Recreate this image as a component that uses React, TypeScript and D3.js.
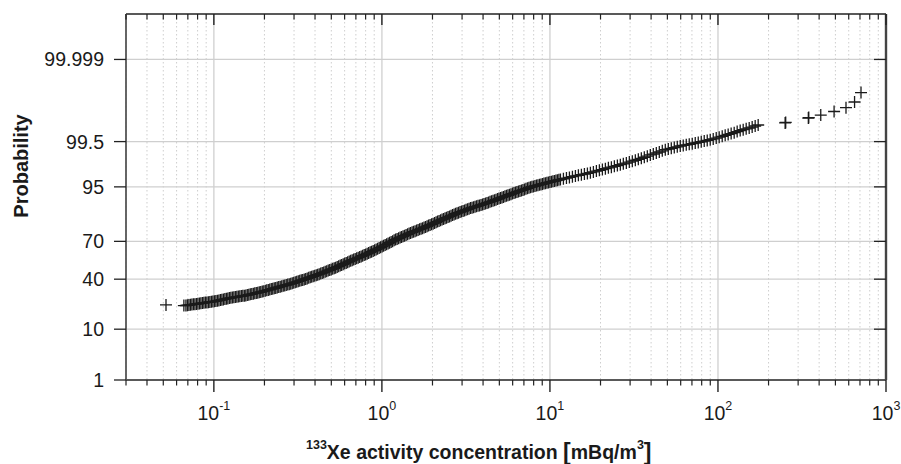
import React from "react";
import * as d3 from "d3";

// ---- data (concentration in mBq/m3, probability in %) ----
const concentration: number[] = [
  0.0519, 0.0663,
  0.06818, 0.07104, 0.07401, 0.07712, 0.08035,
  0.0837, 0.08721, 0.09086, 0.09467, 0.09864,
  0.1028, 0.1071, 0.1116, 0.1163, 0.1211,
  0.1262, 0.1315, 0.137, 0.1427, 0.1487,
  0.1549, 0.1614, 0.1682, 0.1752, 0.1825,
  0.1902, 0.1982, 0.2065, 0.2151, 0.2241,
  0.2335, 0.2433, 0.2535, 0.2641, 0.2752,
  0.2868, 0.2988, 0.3113, 0.3244, 0.338,
  0.3521, 0.3669, 0.3822, 0.3983, 0.4149,
  0.4325, 0.4506, 0.4695, 0.4892, 0.5097,
  0.531, 0.5533, 0.5764, 0.6006, 0.6258,
  0.6521, 0.6794, 0.7079, 0.7376, 0.7685,
  0.8006, 0.8342, 0.8691, 0.9055, 0.9435,
  0.9831, 1.0243, 1.0672, 1.112, 1.1586,
  1.207, 1.258, 1.31, 1.365, 1.422,
  1.482, 1.544, 1.609, 1.676, 1.746,
  1.82, 1.896, 1.976, 2.059, 2.145,
  2.235, 2.329, 2.426, 2.528, 2.634,
  2.744, 2.859, 2.979, 3.104, 3.234,
  3.369, 3.51, 3.657, 3.811, 3.97,
  4.137, 4.31, 4.491, 4.679, 4.875,
  5.08, 5.293, 5.515, 5.746, 5.987,
  6.236, 6.497, 6.77, 7.053, 7.349,
  7.658, 7.979, 8.313, 8.662, 9.025,
  9.404, 9.798, 10.21, 10.64, 11.08,
  11.55, 12.03, 12.54, 13.06, 13.61,
  14.18, 14.77, 15.39, 16.04, 16.71,
  17.41, 18.14, 18.9, 19.69, 20.52,
  21.38, 22.28, 23.21, 24.18, 25.2,
  26.24, 27.34, 28.49, 29.68, 30.92,
  32.23, 33.58, 34.99, 36.45, 37.98,
  39.57, 41.23, 42.96, 44.76, 46.63,
  48.59, 50.63, 52.75, 54.96, 57.26,
  59.65, 62.15, 64.76, 67.47, 70.3,
  73.25, 76.32, 79.52, 82.85, 86.32,
  89.94, 93.71, 97.64, 101.7, 106.0,
  110.4, 115.0, 119.8, 124.9, 130.1,
  135.6, 141.3, 147.2, 153.4, 159.8,
  166.5, 173.5,
  251, 253, 345, 347, 409, 491, 578, 650, 710,
];

const probability: number[] = [
  21.7, 21.3,
  21.36, 21.63, 21.89, 22.16, 22.42,
  22.69, 22.97, 23.25, 23.52, 23.8,
  24.08, 24.51, 24.94, 25.37, 25.8,
  26.23, 26.56, 26.89, 27.21, 27.54,
  27.87, 28.35, 28.82, 29.3, 29.77,
  30.25, 30.85, 31.45, 32.06, 32.66,
  33.26, 33.88, 34.5, 35.13, 35.75,
  36.37, 37.14, 37.91, 38.67, 39.44,
  40.21, 41.06, 41.91, 42.77, 43.62,
  44.47, 45.45, 46.43, 47.41, 48.39,
  49.37, 50.48, 51.59, 52.7, 53.81,
  54.92, 55.95, 56.98, 58.01, 59.04,
  60.07, 61.17, 62.27, 63.37, 64.47,
  65.57, 66.71, 67.85, 68.99, 70.13,
  71.27, 72.17, 73.07, 73.96, 74.86,
  75.76, 76.5, 77.23, 77.97, 78.7,
  79.44, 80.18, 80.92, 81.65, 82.39,
  83.13, 83.76, 84.39, 85.01, 85.64,
  86.27, 86.75, 87.22, 87.7, 88.17,
  88.65, 89.0, 89.35, 89.69, 90.04,
  90.39, 90.75, 91.11, 91.46, 91.82,
  92.18, 92.48, 92.79, 93.09, 93.4,
  93.7, 93.95, 94.2, 94.44, 94.69,
  94.94, 95.1, 95.26, 95.42, 95.58,
  95.74, 95.87, 96.0, 96.13, 96.26,
  96.39, 96.5, 96.6, 96.71, 96.81,
  96.92, 97.01, 97.1, 97.18, 97.27,
  97.36, 97.45, 97.55, 97.64, 97.73,
  97.83, 97.91, 97.98, 98.06, 98.14,
  98.22, 98.29, 98.36, 98.44, 98.51,
  98.58, 98.65, 98.72, 98.79, 98.86,
  98.93, 98.98, 99.04, 99.09, 99.15,
  99.2, 99.23, 99.261, 99.291, 99.322,
  99.352, 99.373, 99.394, 99.414, 99.435,
  99.456, 99.475, 99.495, 99.514, 99.534,
  99.553, 99.574, 99.595, 99.616, 99.637,
  99.658, 99.676, 99.693, 99.711, 99.729,
  99.747, 99.76, 99.773, 99.785, 99.798,
  99.811, 99.823,
  99.846, 99.851, 99.889, 99.893, 99.91, 99.93, 99.947, 99.965, 99.983,
];

// further observations read in the densest part of the band (0.07 – 11 mBq/m3)
const bandConcentration: number[] = [
  0.06959, 0.07251, 0.07555, 0.07872, 0.08202, 0.08544, 0.08902, 0.09274, 0.09663, 0.1007,
  0.1049, 0.1093, 0.1139, 0.1187, 0.1236, 0.1288, 0.1342, 0.1398, 0.1457, 0.1518,
  0.1581, 0.1647, 0.1717, 0.1788, 0.1863, 0.1941, 0.2023, 0.2108, 0.2196, 0.2287,
  0.2383, 0.2483, 0.2588, 0.2696, 0.2809, 0.2927, 0.305, 0.3178, 0.3311, 0.345,
  0.3594, 0.3745, 0.3901, 0.4066, 0.4235, 0.4415, 0.4599, 0.4792, 0.4993, 0.5203,
  0.542, 0.5648, 0.5884, 0.6131, 0.6388, 0.6656, 0.6935, 0.7226, 0.7529, 0.7844,
  0.8172, 0.8515, 0.8871, 0.9243, 0.9631, 1.0035, 1.0455, 1.0893, 1.1351, 1.1826,
  1.232, 1.284, 1.337, 1.393, 1.452, 1.513, 1.576, 1.642, 1.711, 1.782,
  1.858, 1.935, 2.017, 2.102, 2.189, 2.281, 2.377, 2.476, 2.58, 2.689,
  2.801, 2.918, 3.041, 3.168, 3.301, 3.439, 3.583, 3.733, 3.89, 4.052,
  4.223, 4.399, 4.584, 4.776, 4.976, 5.185, 5.403, 5.629, 5.865, 6.111,
  6.365, 6.632, 6.91, 7.199, 7.501, 7.817, 8.144, 8.485, 8.842, 9.212,
  9.599, 10.0, 10.42, 10.86, 11.31,
];
const bandProbability: number[] = [
  21.5, 21.76, 22.03, 22.29, 22.56, 22.83, 23.11, 23.39, 23.66, 23.94,
  24.3, 24.73, 25.16, 25.59, 26.02, 26.4, 26.73, 27.05, 27.38, 27.71,
  28.11, 28.59, 29.06, 29.54, 30.01, 30.55, 31.15, 31.76, 32.36, 32.96,
  33.57, 34.19, 34.82, 35.44, 36.06, 36.76, 37.53, 38.29, 39.06, 39.83,
  40.64, 41.49, 42.34, 43.2, 44.05, 44.96, 45.94, 46.92, 47.9, 48.88,
  49.93, 51.04, 52.15, 53.26, 54.37, 55.44, 56.47, 57.5, 58.53, 59.56,
  60.62, 61.72, 62.82, 63.92, 65.02, 66.14, 67.28, 68.42, 69.56, 70.7,
  71.72, 72.62, 73.52, 74.41, 75.31, 76.13, 76.87, 77.6, 78.34, 79.07,
  79.81, 80.55, 81.29, 82.02, 82.76, 83.45, 84.08, 84.7, 85.33, 85.96,
  86.51, 86.99, 87.46, 87.94, 88.41, 88.83, 89.18, 89.52, 89.87, 90.22,
  90.57, 90.93, 91.29, 91.64, 92.0, 92.33, 92.64, 92.94, 93.25, 93.55,
  93.83, 94.08, 94.32, 94.57, 94.82, 95.02, 95.18, 95.34, 95.5, 95.66,
  95.81, 95.94, 96.07, 96.2, 96.33,
];

const probTicks: number[] = [1, 10, 40, 70, 95, 99.5, 99.999];
const probTickLabels: string[] = ["1", "10", "40", "70", "95", "99.5", "99.999"];
const decadeTicks: number[] = [0.1, 1, 10, 100, 1000];
const decadeExponents: string[] = ["-1", "0", "1", "2", "3"];
const xDomain: number[] = [0.03, 1000];
const probDomain: number[] = [1, 99.99999];

// inverse standard normal CDF (Acklam) – used by the probability (probit) scale
function probit(p: number): number {
  const a = [-39.69683028665376, 220.9460984245205, -275.9285104469687, 138.357751867269, -30.66479806614716, 2.506628277459239];
  const b = [-54.47609879822406, 161.5858368580409, -155.6989798598866, 66.80131188771972, -13.28068155288572];
  const c = [-0.007784894002430293, -0.3223964580411365, -2.400758277161838, -2.549732539343734, 4.374664141464968, 2.938163982698783];
  const d = [0.007784695709041462, 0.3224671290700398, 2.445134137142996, 3.754408661907416];
  const plow = 0.02425;
  if (p < plow) {
    const q = Math.sqrt(-2 * Math.log(p));
    return (((((c[0] * q + c[1]) * q + c[2]) * q + c[3]) * q + c[4]) * q + c[5]) /
      ((((d[0] * q + d[1]) * q + d[2]) * q + d[3]) * q + 1);
  }
  if (p <= 1 - plow) {
    const q = p - 0.5;
    const r = q * q;
    return ((((((a[0] * r + a[1]) * r + a[2]) * r + a[3]) * r + a[4]) * r + a[5]) * q) /
      (((((b[0] * r + b[1]) * r + b[2]) * r + b[3]) * r + b[4]) * r + 1);
  }
  const q = Math.sqrt(-2 * Math.log(1 - p));
  return -(((((c[0] * q + c[1]) * q + c[2]) * q + c[3]) * q + c[4]) * q + c[5]) /
    ((((d[0] * q + d[1]) * q + d[2]) * q + d[3]) * q + 1);
}

const W = 901;
const H = 464;
const L = 126, R = 886, T = 14, B = 380;
const FONT = "'Liberation Sans', Arial, Helvetica, sans-serif";

export default function App() {
  const x = d3.scaleLog().domain(xDomain).range([L, R]);
  const zScale = d3.scaleLinear()
    .domain([probit(probDomain[0] / 100), probit(probDomain[1] / 100)])
    .range([B, T]);
  const y = (pct: number) => zScale(probit(pct / 100));

  const allTicks = x.ticks();
  const minorTicks = allTicks.filter((t) => !decadeTicks.some((d) => Math.abs(d - t) / d < 1e-9));

  const points = [
    ...concentration.map((c, i) => ({ c, p: probability[i] })),
    ...bandConcentration.map((c, i) => ({ c, p: bandProbability[i] })),
  ];
  const plus = "M-6,0H6M0,-6V6";

  return (
    <svg width={W} height={H} style={{ position: "absolute", left: 0, top: 0, background: "#fff" }} fontFamily={FONT}>
      <rect x={0} y={0} width={W} height={H} fill="#fff" />
      {/* vertical minor grid */}
      {minorTicks.map((t, i) => (
        <line key={"gm" + i} x1={x(t)} x2={x(t)} y1={T} y2={B} stroke="#c8c8c8" strokeWidth={0.9} strokeDasharray="1.5,2.5" />
      ))}
      {/* vertical major grid */}
      {decadeTicks.slice(0, 4).map((t, i) => (
        <line key={"gM" + i} x1={x(t)} x2={x(t)} y1={T} y2={B} stroke="#d6d6d6" strokeWidth={1.5} />
      ))}
      {/* horizontal grid */}
      {probTicks.slice(1).map((p, i) => (
        <line key={"gh" + i} x1={L} x2={R} y1={y(p)} y2={y(p)} stroke="#cfcfcf" strokeWidth={1.2} />
      ))}

      {/* data */}
      <g fill="none" stroke="#1a1a1a" strokeWidth={1.3}>
        {points.map((d, i) => (
          <path key={"p" + i} d={plus} transform={`translate(${x(d.c)},${y(d.p)})`} />
        ))}
      </g>

      {/* frame */}
      <line x1={L} x2={R} y1={T} y2={T} stroke="#222" strokeWidth={1.6} />
      <line x1={L} x2={R} y1={B} y2={B} stroke="#222" strokeWidth={1.6} />
      <line x1={L} x2={L} y1={T} y2={B} stroke="#555" strokeWidth={1.8} />
      <line x1={R} x2={R} y1={T} y2={B} stroke="#444" strokeWidth={2.4} />

      {/* x ticks bottom (outward) and top (inward) */}
      {minorTicks.map((t, i) => (
        <g key={"xt" + i} stroke="#222" strokeWidth={1.2}>
          <line x1={x(t)} x2={x(t)} y1={B} y2={B + 5.5} />
          <line x1={x(t)} x2={x(t)} y1={T} y2={T + 5.5} />
        </g>
      ))}
      {decadeTicks.map((t, i) => (
        <g key={"xT" + i} stroke="#222" strokeWidth={1.4}>
          <line x1={x(t)} x2={x(t)} y1={B} y2={B + 12} />
          <line x1={x(t)} x2={x(t)} y1={T} y2={T + 11} />
        </g>
      ))}
      {decadeTicks.map((t, i) => (
        <text key={"xl" + i} x={x(t)} y={420} textAnchor="middle" fontSize={19.5} fill="#1a1a1a">
          10<tspan dy={-10} fontSize={12.5}>{decadeExponents[i]}</tspan>
        </text>
      ))}

      {/* y ticks left (outward) and right (inward) */}
      {probTicks.map((p, i) => (
        <g key={"yt" + i} stroke="#222" strokeWidth={1.3}>
          <line x1={L - 12} x2={L} y1={y(p)} y2={y(p)} />
          {i > 0 && <line x1={R - 12} x2={R} y1={y(p)} y2={y(p)} />}
        </g>
      ))}
      {probTicks.map((p, i) => (
        <text key={"yl" + i} x={104} y={y(p)} dy="0.36em" textAnchor="end" fontSize={19.5} fill="#1a1a1a">
          {probTickLabels[i]}
        </text>
      ))}

      {/* axis titles */}
      <text transform="translate(28,166) rotate(-90)" textAnchor="middle" fontSize={20} fontWeight="bold" fill="#1a1a1a">
        Probability
      </text>
      <text x={306} y={459} fontSize={19.5} fontWeight="bold" fill="#1a1a1a">
        <tspan fontSize={12.5} dy={-10}>133</tspan>
        <tspan dy={10}>Xe activity concentration </tspan>
        <tspan fontSize={23} dy={1}>[</tspan>
        <tspan dy={-1}>mBq/m</tspan>
        <tspan fontSize={12.5} dy={-10}>3</tspan>
        <tspan fontSize={23} dy={11}>]</tspan>
      </text>
    </svg>
  );
}
